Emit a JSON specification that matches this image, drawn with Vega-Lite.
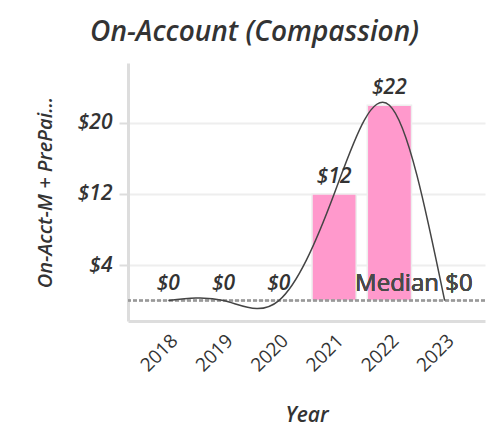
{
  "$schema": "https://vega.github.io/schema/vega-lite/v6.json",
  "autosize": "none",
  "width": 357,
  "height": 258,
  "padding": {"left": 128, "top": 63, "right": 16, "bottom": 119},
  "background": "white",
  "title": {
    "text": "On-Account (Compassion)",
    "font": "Open Sans",
    "fontSize": 28,
    "fontStyle": "italic",
    "fontWeight": 600,
    "color": "#333333",
    "anchor": "middle",
    "frame": "bounds",
    "dx": -6,
    "offset": 16
  },
  "config": {
    "view": {"stroke": null},
    "font": "Open Sans"
  },
  "data": {
    "values": [
      {"Year": 2018, "Amount": 0, "Label": "$0"},
      {"Year": 2019, "Amount": 0, "Label": "$0"},
      {"Year": 2020, "Amount": 0, "Label": "$0"},
      {"Year": 2021, "Amount": 12, "Label": "$12"},
      {"Year": 2022, "Amount": 22, "Label": "$22"},
      {"Year": 2023, "Amount": 0, "Label": ""}
    ]
  },
  "layer": [
    {
      "mark": {"type": "bar", "color": "#ff99cc", "stroke": "#eeeeee", "strokeWidth": 1.5},
      "encoding": {
        "x": {
          "field": "Year",
          "type": "ordinal",
          "scale": {"paddingInner": 0.2, "paddingOuter": 0.33},
          "axis": {
            "title": "Year",
            "titleFont": "Open Sans",
            "titleFontSize": 21,
            "titleFontStyle": "italic",
            "titleFontWeight": 600,
            "titleColor": "#333333",
            "titlePadding": 29,
            "labelAngle": -45,
            "labelFont": "Open Sans",
            "labelFontSize": 19,
            "labelFontWeight": 400,
            "labelColor": "#333333",
            "labelPadding": 10,
            "ticks": false,
            "domainColor": "#dddddd",
            "domainWidth": 3,
            "grid": false
          }
        },
        "y": {
          "field": "Amount",
          "type": "quantitative",
          "scale": {"domain": [-2.3, 26.75], "nice": false, "zero": false},
          "axis": {
            "title": "On-Acct-M + PrePai...",
            "titleFont": "Open Sans",
            "titleFontSize": 20,
            "titleFontStyle": "italic",
            "titleFontWeight": 600,
            "titleColor": "#333333",
            "titlePadding": 22,
            "values": [4, 12, 20],
            "labelExpr": "'$' + datum.value",
            "labelFont": "Open Sans",
            "labelFontSize": 21,
            "labelFontStyle": "italic",
            "labelFontWeight": 600,
            "labelColor": "#333333",
            "labelPadding": 7,
            "tickColor": "#dddddd",
            "tickSize": 9,
            "tickWidth": 2,
            "domainColor": "#dddddd",
            "domainWidth": 3,
            "grid": true,
            "gridColor": "#eeeeee",
            "gridWidth": 2
          }
        }
      }
    },
    {
      "mark": {"type": "rule", "color": "#999999", "strokeDash": [4, 2], "strokeWidth": 1.5},
      "encoding": {"y": {"datum": 0}}
    },
    {
      "mark": {"type": "line", "interpolate": "natural", "color": "#444444", "strokeWidth": 1.5},
      "encoding": {
        "x": {"field": "Year", "type": "ordinal"},
        "y": {"field": "Amount", "type": "quantitative"}
      }
    },
    {
      "mark": {"type": "text", "dy": -11, "baseline": "alphabetic", "font": "Open Sans", "fontSize": 21, "fontStyle": "italic", "fontWeight": 600, "color": "#333333"},
      "encoding": {
        "x": {"field": "Year", "type": "ordinal"},
        "y": {"field": "Amount", "type": "quantitative"},
        "text": {"field": "Label"}
      }
    },
    {
      "mark": {"type": "text", "align": "right", "baseline": "alphabetic", "dx": 28, "dy": -10, "font": "Open Sans", "fontSize": 24, "fontWeight": 400, "color": "#4a4a4a", "text": "Median $0"},
      "encoding": {
        "x": {"datum": 2023, "type": "ordinal"},
        "y": {"datum": 0, "type": "quantitative"}
      }
    }
  ]
}
